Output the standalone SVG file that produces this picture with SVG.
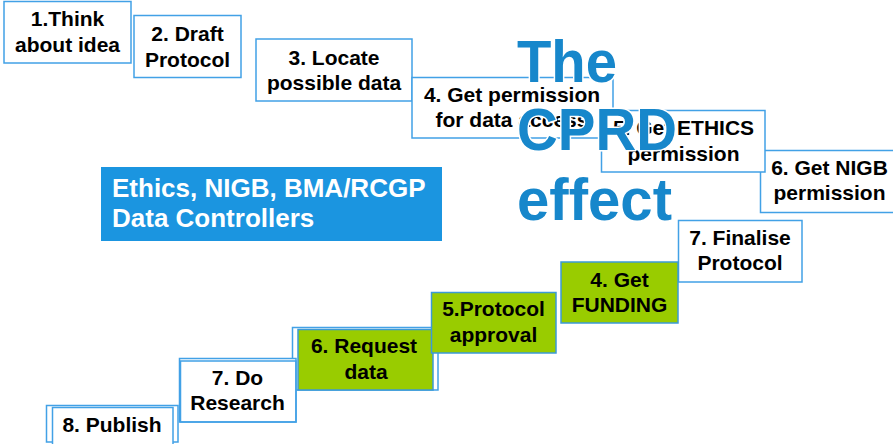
<svg xmlns="http://www.w3.org/2000/svg" width="893" height="444" viewBox="0 0 893 444">
<style>
  .box { fill: #ffffff; stroke: #42a1e6; stroke-width: 1.5; }
  .ol { fill: none; stroke: #42a1e6; stroke-width: 1.5; }
  .green { fill: #99cc00; stroke: #3c9ad6; stroke-width: 1.5; }
  .lbl { font-family: "Liberation Sans", Arial, sans-serif; font-weight: bold; font-size: 21px; fill: #000000; text-anchor: middle; }
  .info { font-family: "Liberation Sans", Arial, sans-serif; font-weight: bold; font-size: 26px; fill: #ffffff; }
  .big { font-family: "Liberation Sans", Arial, sans-serif; font-weight: bold; font-size: 59px; fill: #1787cb; stroke: #ffffff; stroke-width: 3; paint-order: stroke; stroke-linejoin: round; }
</style>
<rect width="893" height="444" fill="#ffffff"/>

<g id="n1">
  <rect class="box" x="4" y="1.5" width="127" height="61.5"/>
  <text class="lbl" x="67.5" y="26">1.Think</text>
  <text class="lbl" x="67.5" y="52">about idea</text>
</g>
<g id="n2">
  <rect class="box" x="134" y="15.5" width="107" height="62"/>
  <text class="lbl" x="187.5" y="41">2. Draft</text>
  <text class="lbl" x="187.5" y="67">Protocol</text>
</g>
<g id="n3">
  <rect class="box" x="256" y="39" width="156" height="62"/>
  <text class="lbl" x="334" y="65">3. Locate</text>
  <text class="lbl" x="334" y="90">possible data</text>
</g>
<g id="n4">
  <rect class="box" x="412" y="77.5" width="201" height="60.5"/>
  <text class="lbl" x="512" y="102">4. Get permission</text>
  <text class="lbl" x="512" y="127">for data access</text>
</g>
<g id="n6">
  <rect class="box" x="760.5" y="150.5" width="139" height="62"/>
  <text class="lbl" x="829.5" y="175">6. Get NIGB</text>
  <text class="lbl" x="829.5" y="200">permission</text>
</g>
<g id="n5">
  <rect class="box" x="601.5" y="110.5" width="163.5" height="61.5"/>
  <text class="lbl" x="683.5" y="135">5. Get ETHICS</text>
  <text class="lbl" x="683.5" y="161">permission</text>
</g>
<g id="n7f">
  <rect class="box" x="678.5" y="220.5" width="123.5" height="61.5"/>
  <text class="lbl" x="740" y="245">7. Finalise</text>
  <text class="lbl" x="740" y="270">Protocol</text>
</g>
<g id="n4f">
  <rect class="green" x="561" y="262" width="117" height="61"/>
  <text class="lbl" x="619.5" y="287">4. Get</text>
  <text class="lbl" x="619.5" y="312">FUNDING</text>
</g>
<g id="n6r">
  <rect class="box" x="292.5" y="327.5" width="145.5" height="62.5"/>
  <rect class="green" x="298" y="329.5" width="135" height="60.5"/>
  <text class="lbl" x="364" y="353">6. Request</text>
  <text class="lbl" x="366" y="379">data</text>
</g>
<g id="n5p">
  <rect class="green" x="431.5" y="292.5" width="124.5" height="60.5"/>
  <text class="lbl" x="493.5" y="316">5.Protocol</text>
  <text class="lbl" x="493.5" y="342">approval</text>
</g>
<g id="n7d">
  <rect class="box" x="179.5" y="358.5" width="116.5" height="63.5"/>
  <rect class="ol" x="180.5" y="361" width="115.5" height="61"/>
  <text class="lbl" x="237.5" y="385">7. Do</text>
  <text class="lbl" x="237.5" y="410">Research</text>
</g>
<g id="n8">
  <rect class="box" x="46.5" y="405.5" width="131.5" height="36.5"/>
  <rect class="box" x="52.5" y="407.5" width="120.5" height="38"/>
  <text class="lbl" x="112" y="432">8. Publish</text>
</g>

<g id="info">
  <rect x="101" y="167" width="341" height="74" fill="#1b95e0"/>
  <text class="info" x="112" y="197">Ethics, NIGB, BMA/RCGP</text>
  <text class="info" x="112" y="227">Data Controllers</text>
</g>

<g id="title">
  <text class="big" x="517" y="82" textLength="100" lengthAdjust="spacingAndGlyphs">The</text>
  <text class="big" x="517" y="150" textLength="160" lengthAdjust="spacingAndGlyphs">CPRD</text>
  <text class="big" x="517" y="220" textLength="155" lengthAdjust="spacingAndGlyphs">effect</text>
</g>

<g id="connectors"></g>
</svg>
